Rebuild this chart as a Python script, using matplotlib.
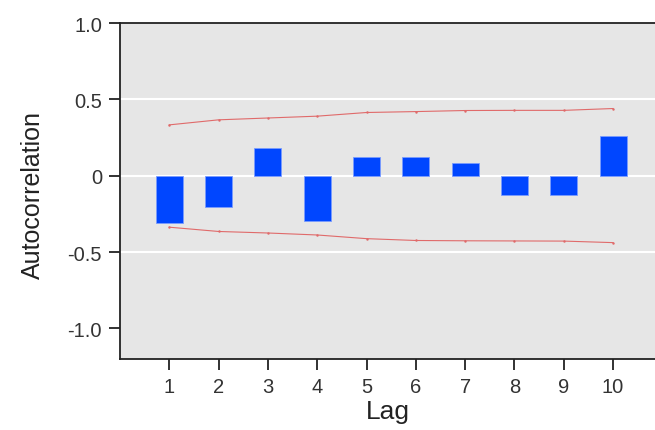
import numpy as np
import matplotlib
matplotlib.use("Agg")
import matplotlib.pyplot as plt

lags = [1, 2, 3, 4, 5, 6, 7, 8, 9, 10]
acf = [-0.307, -0.208, 0.183, -0.297, 0.123, 0.123, 0.084, -0.126, -0.126, 0.257]
upper = [0.333, 0.366, 0.378, 0.39, 0.414, 0.42, 0.427, 0.428, 0.428, 0.44]
lower = [-0.337, -0.365, -0.375, -0.388, -0.412, -0.424, -0.426, -0.427, -0.428, -0.438]
yticks = [1.0, 0.5, 0.0, -0.5, -1.0]
ytick_labels = ["1.0", "0.5", "0", "-0.5", "-1.0"]

plt.rcParams['font.family'] = ['Liberation Sans', 'DejaVu Sans']

fig = plt.figure(figsize=(6.55, 4.31), dpi=100)
ax = fig.add_axes([120 / 655, 71 / 431, 535 / 655, 336 / 431])
ax.set_facecolor('#e6e6e6')

for g in [0.5, 0.0, -0.5]:
    ax.axhline(g, color='white', lw=1.5, zorder=1)

ax.bar(lags, acf, width=0.55, color='#0046ff', edgecolor='#7a9cff', linewidth=0.6, zorder=3)
ax.plot(lags, upper, color='#e06a6a', lw=0.8, marker='.', markersize=1.5, zorder=2)
ax.plot(lags, lower, color='#e06a6a', lw=0.8, marker='.', markersize=1.5, zorder=2)

ax.set_xlim(0, 10.85)
ax.set_ylim(-1.2, 1.0)
ax.set_xticks(lags)
ax.set_xticklabels([str(l) for l in lags])
ax.set_yticks(yticks)
ax.set_yticklabels(ytick_labels)

ax.spines['right'].set_visible(False)
for s in ['left', 'bottom', 'top']:
    ax.spines[s].set_color('#222222')
    ax.spines[s].set_linewidth(1.3)

ax.tick_params(axis='both', direction='out', length=8, width=1.3, color='#222222',
               labelsize=14.5, labelcolor='#333333', pad=5)

ax.set_xlabel('Lag', fontsize=19, color='#222222')
ax.set_ylabel('Autocorrelation', fontsize=18, color='#222222')
ax.xaxis.set_label_coords(0.5, -0.12)
ax.yaxis.set_label_coords(-0.14, 0.49)

fig.savefig('out.png', dpi=100)
